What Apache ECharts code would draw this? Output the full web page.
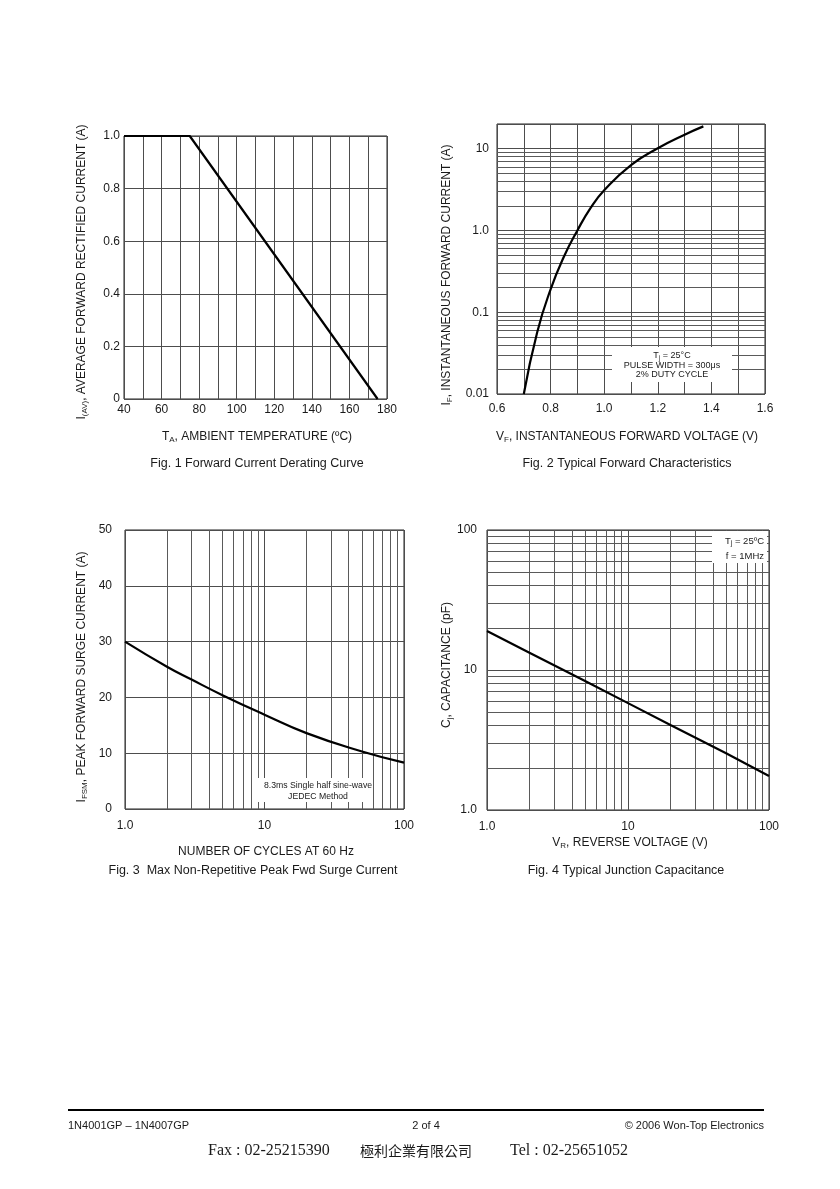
<!DOCTYPE html>
<html>
<head>
<meta charset="utf-8">
<script src="https://cdn.jsdelivr.net/npm/echarts@6/dist/echarts.min.js"></script>
<style>
  html, body { margin: 0; padding: 0; background: #fff; }
  #chart { width: 840px; height: 1189px; }
</style>
</head>
<body>
<div id="chart"></div>
<script>
// ---------- DATA ----------
// Fig. 1 Forward Current Derating Curve
const fig1Temp = [40, 75, 175];
const fig1Current = [1.0, 1.0, 0];
// Fig. 2 Typical Forward Characteristics
const fig2Voltage = [0.70, 0.75, 0.80, 0.85, 0.90, 0.95, 1.0, 1.1, 1.2, 1.3, 1.37];
const fig2Current = [0.01, 0.057, 0.19, 0.48, 1.0, 1.9, 3.1, 6.3, 10.1, 14.8, 18.7];
// Fig. 3 Max Non-Repetitive Peak Fwd Surge Current
const fig3Cycles = [1, 2, 3, 5, 10, 20, 50, 100];
const fig3Current = [30, 25.5, 23.2, 20.4, 16.9, 13.6, 10.3, 8.3];
// Fig. 4 Typical Junction Capacitance
const fig4Voltage = [1, 2, 5, 10, 20, 50, 100];
const fig4Cap = [19, 13.3, 8.3, 5.8, 4.05, 2.53, 1.75];
// tick labels
const fig1XLabels = ['40', '60', '80', '100', '120', '140', '160', '180'];
const fig1YLabels = ['0', '0.2', '0.4', '0.6', '0.8', '1.0'];
const fig2XLabels = ['0.6', '0.8', '1.0', '1.2', '1.4', '1.6'];
const fig2YLabels = ['0.01', '0.1', '1.0', '10'];
const fig3XLabels = ['1.0', '10', '100'];
const fig3YLabels = ['0', '10', '20', '30', '40', '50'];
const fig4XLabels = ['1.0', '10', '100'];
const fig4YLabels = ['1.0', '10', '100'];

// ---------- STYLE ----------
const FONT = 'Liberation Sans';
const GRID_COLOR = '#4d4d4d';
const MINOR_COLOR = '#5a5a5a';
const TXT = '#1a1a1a';

function pairs(xs, ys) { return xs.map((x, i) => [x, ys[i]]); }
function findLabel(list, v) {
  const hit = list.find(s => Math.abs(parseFloat(s) - v) < 1e-6 * Math.max(1, Math.abs(v)));
  return hit === undefined ? '' : hit;
}
function logMinor(fromExp, toExp, maxVal) {
  const out = [];
  for (let e = fromExp; e <= toExp; e++) {
    for (let k = 2; k <= 9; k++) {
      const v = k * Math.pow(10, e);
      if (v < maxVal) out.push(v);
    }
  }
  return out;
}
function gridMarks(xs, ys) {
  const data = [];
  xs.forEach(v => data.push({ xAxis: v }));
  ys.forEach(v => data.push({ yAxis: v }));
  return {
    silent: true, symbol: ['none', 'none'], animation: false,
    label: { show: false }, emphasis: { disabled: true },
    lineStyle: { color: MINOR_COLOR, width: 1, type: 'solid' },
    data: data
  };
}
function gridBox(left, top, width, height) {
  return { left, top, width, height, show: true, borderColor: '#222', borderWidth: 1,
           backgroundColor: 'transparent', containLabel: false, outerBoundsMode: 'none' };
}
function axisBase(idx, extra) {
  return Object.assign({
    gridIndex: idx,
    axisLine: { show: false },
    axisTick: { show: false },
    splitLine: { show: true, lineStyle: { color: GRID_COLOR, width: 1 } },
    axisLabel: { color: TXT, fontSize: 12, fontFamily: FONT }
  }, extra);
}
function lbl(margin, list) {
  return { color: TXT, fontSize: 12, fontFamily: FONT, margin: margin, formatter: v => findLabel(list, v) };
}

const sub = { fontSize: 8, lineHeight: 8, padding: [6, 0, 0, 0], fontFamily: FONT, fill: TXT, color: TXT };
const main = { fontSize: 12, lineHeight: 14, fontFamily: FONT, fill: TXT, color: TXT };

function title(x, y, text, rotate, size) {
  return {
    type: 'text', x: x, y: y, rotation: rotate ? Math.PI / 2 : 0, z: 50,
    style: {
      text: text, fill: TXT, font: (size || 12) + 'px "' + FONT + '"',
      textAlign: 'center', textVerticalAlign: 'middle',
      rich: { m: main, s: sub }
    }
  };
}
function noteBox(x, y, w, h) {
  return { type: 'rect', shape: { x: x, y: y, width: w, height: h }, style: { fill: '#fff' }, z: 40 };
}
function note(x, y, text, align, size) {
  return {
    type: 'text', x: x, y: y, z: 45,
    style: {
      text: text, fill: TXT, font: size + 'px "' + FONT + '"',
      textAlign: align, textVerticalAlign: 'middle',
      rich: {
        m: { fontSize: size, lineHeight: size + 2, fontFamily: FONT, fill: TXT, color: TXT },
        s: { fontSize: size * 0.7, lineHeight: size * 0.7, padding: [5, 0, 0, 0], fontFamily: FONT, fill: TXT, color: TXT }
      }
    }
  };
}

const curveStyle = { color: '#000', width: 2.2 };

const option = {
  animation: false,
  backgroundColor: '#ffffff',
  grid: [
    gridBox(124, 136, 263, 263),
    gridBox(497, 124, 268, 270),
    gridBox(125, 530, 279, 279),
    gridBox(487, 530, 282, 280)
  ],
  xAxis: [
    axisBase(0, { type: 'value', min: 40, max: 180, interval: 10, axisLabel: lbl(5, fig1XLabels) }),
    axisBase(1, { type: 'value', min: 0.6, max: 1.6, interval: 0.1, axisLabel: lbl(9, fig2XLabels) }),
    axisBase(2, { type: 'log', logBase: 10, min: 1, max: 100, axisLabel: lbl(11, fig3XLabels) }),
    axisBase(3, { type: 'log', logBase: 10, min: 1, max: 100, axisLabel: lbl(11, fig4XLabels) })
  ],
  yAxis: [
    axisBase(0, { type: 'value', min: 0, max: 1, interval: 0.2, axisLabel: lbl(4, fig1YLabels) }),
    axisBase(1, { type: 'log', logBase: 10, min: 0.01, max: 20, axisLabel: lbl(8, fig2YLabels) }),
    axisBase(2, { type: 'value', min: 0, max: 50, interval: 10, axisLabel: lbl(13, fig3YLabels) }),
    axisBase(3, { type: 'log', logBase: 10, min: 1, max: 100, axisLabel: lbl(10, fig4YLabels) })
  ],
  series: [
    { type: 'line', xAxisIndex: 0, yAxisIndex: 0, data: pairs(fig1Temp, fig1Current),
      symbol: 'none', lineStyle: curveStyle, z: 10, silent: true },
    { type: 'line', xAxisIndex: 1, yAxisIndex: 1, data: pairs(fig2Voltage, fig2Current),
      symbol: 'none', smooth: 0.5, lineStyle: curveStyle, z: 10, silent: true,
      markLine: gridMarks([], logMinor(-2, 1, 20)) },
    { type: 'line', xAxisIndex: 2, yAxisIndex: 2, data: pairs(fig3Cycles, fig3Current),
      symbol: 'none', smooth: 0.5, lineStyle: curveStyle, z: 10, silent: true,
      markLine: gridMarks(logMinor(0, 1, 100), []) },
    { type: 'line', xAxisIndex: 3, yAxisIndex: 3, data: pairs(fig4Voltage, fig4Cap),
      symbol: 'none', smooth: false, lineStyle: curveStyle, z: 10, silent: true,
      markLine: gridMarks(logMinor(0, 1, 100), logMinor(0, 1, 100)) }
  ],
  graphic: [
    // Fig 1 titles
    title(82, 272, '{m|I}{s|(AV)}{m|, AVERAGE FORWARD RECTIFIED CURRENT (A)}', true),
    title(257, 437, '{m|T}{s|A}{m|, AMBIENT TEMPERATURE (ºC)}', false),
    title(257, 464, 'Fig. 1 Forward Current Derating Curve', false, 12.5),
    // Fig 2 titles
    title(447, 275, '{m|I}{s|F}{m|, INSTANTANEOUS FORWARD CURRENT (A)}', true),
    title(627, 437, '{m|V}{s|F}{m|, INSTANTANEOUS FORWARD VOLTAGE (V)}', false),
    title(627, 464, 'Fig. 2 Typical Forward Characteristics', false, 12.5),
    // Fig 3 titles
    title(82, 677, '{m|I}{s|FSM}{m|, PEAK FORWARD SURGE CURRENT (A)}', true),
    title(266, 852, 'NUMBER OF CYCLES AT 60 Hz', false),
    title(253, 871, 'Fig. 3  Max Non-Repetitive Peak Fwd Surge Current', false, 12.5),
    // Fig 4 titles
    title(447, 665, '{m|C}{s|j}{m|, CAPACITANCE (pF)}', true),
    title(630, 843, '{m|V}{s|R}{m|, REVERSE VOLTAGE (V)}', false),
    title(626, 871, 'Fig. 4 Typical Junction Capacitance', false, 12.5),
    // Fig 2 note
    noteBox(612, 347, 120, 35),
    note(672, 356, '{m|T}{s|j}{m| = 25°C}', 'center', 9),
    note(672, 366, 'PULSE WIDTH = 300μs', 'center', 9),
    note(672, 375, '2% DUTY CYCLE', 'center', 9),
    // Fig 3 note
    noteBox(255, 778, 116, 24),
    note(318, 786, '8.3ms Single half sine-wave', 'center', 8.7),
    note(318, 797, 'JEDEC Method', 'center', 8.7),
    // Fig 4 note
    noteBox(712, 531, 55, 32),
    note(764, 541, '{m|T}{s|j}{m| = 25ºC}', 'right', 9.5),
    note(764, 556, 'f = 1MHz', 'right', 9.5),
    // footer
    { type: 'line', shape: { x1: 68, y1: 1110, x2: 764, y2: 1110 }, style: { stroke: '#000', lineWidth: 2 }, z: 50 },
    { type: 'text', x: 68, y: 1126, z: 50, style: { text: '1N4001GP – 1N4007GP', fill: TXT, font: '11px "' + FONT + '"', textAlign: 'left', textVerticalAlign: 'middle' } },
    { type: 'text', x: 426, y: 1126, z: 50, style: { text: '2 of 4', fill: TXT, font: '11px "' + FONT + '"', textAlign: 'center', textVerticalAlign: 'middle' } },
    { type: 'text', x: 764, y: 1126, z: 50, style: { text: '© 2006 Won-Top Electronics', fill: TXT, font: '11px "' + FONT + '"', textAlign: 'right', textVerticalAlign: 'middle' } },
    { type: 'text', x: 208, y: 1151, z: 50, style: { text: 'Fax : 02-25215390', fill: TXT, font: '16px "Liberation Serif"', textAlign: 'left', textVerticalAlign: 'middle' } },
    { type: 'text', x: 360, y: 1151, z: 50, style: { text: '極利企業有限公司', fill: TXT, font: '14px "Noto Sans CJK TC"', textAlign: 'left', textVerticalAlign: 'middle' } },
    { type: 'text', x: 510, y: 1151, z: 50, style: { text: 'Tel : 02-25651052', fill: TXT, font: '16px "Liberation Serif"', textAlign: 'left', textVerticalAlign: 'middle' } }
  ]
};

const chart = echarts.init(document.getElementById('chart'), null, { renderer: 'canvas' });
chart.setOption(option);
</script>
</body>
</html>
